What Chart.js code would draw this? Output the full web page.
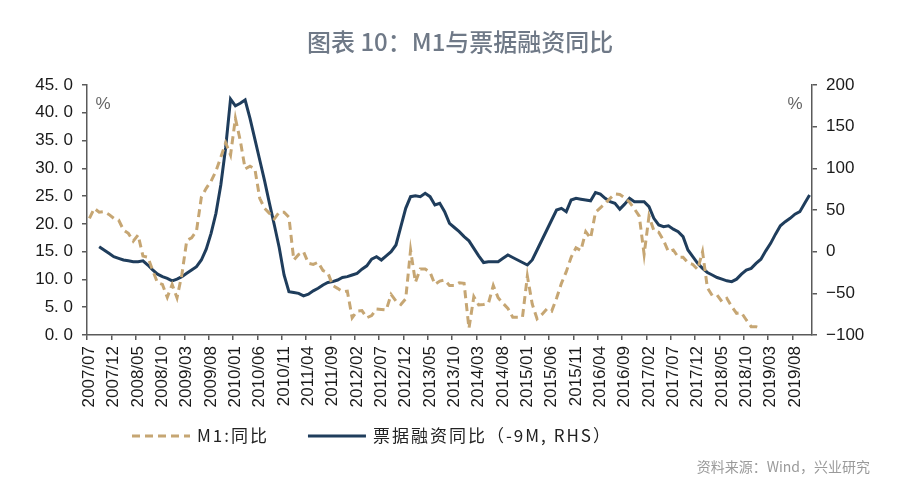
<!DOCTYPE html>
<html>
<head>
<meta charset="utf-8">
<script src="https://cdn.jsdelivr.net/npm/chart.js@4.4.1/dist/chart.umd.min.js"></script>
<style>
  html, body { margin: 0; padding: 0; background: #fff; }
</style>
</head>
<body>
<canvas id="myChart" width="900" height="490"></canvas>
<script>
// monthly categories 2007/07 .. 2019/11
var months = [];
for (var yr = 2007; yr <= 2019; yr++) {
    for (var mo = 1; mo <= 12; mo++) {
        if (yr === 2007 && mo < 7) continue;
        if (yr === 2019 && mo > 11) continue;
        months.push(yr + '/' + (mo < 10 ? '0' + mo : mo));
    }
}

// M1 yoy, %, left axis (2007/07 .. 2019/01)
var m1 = [
    21.0, 22.8, 22.1, 22.2, 21.7, 21.0,
    20.7, 18.9, 18.3, 16.9, 18.0, 14.2, 14.0, 11.6, 9.4, 9.1, 6.8, 9.1,
    6.7, 10.9, 17.0, 17.5, 18.7, 24.8, 26.4, 27.7, 29.5, 32.0, 34.6, 32.4,
    39.0, 35.0, 29.9, 30.4, 29.9, 24.6, 22.8, 21.9, 20.9, 22.1, 22.1, 21.2,
    13.5, 14.5, 15.0, 12.9, 12.7, 13.1, 11.6, 11.2, 8.9, 8.4, 7.8, 7.9,
    3.1, 4.3, 4.4, 3.1, 3.5, 4.7, 4.6, 4.5, 7.3, 6.1, 5.5, 6.5,
    15.3, 9.5, 11.9, 11.9, 11.3, 9.1, 9.7, 9.9, 8.9, 8.9, 9.4, 9.3,
    1.2, 6.9, 5.4, 5.5, 5.7, 8.9, 6.7, 5.7, 4.8, 3.2, 3.2, 3.2,
    10.6, 5.6, 2.9, 3.7, 4.7, 4.3, 6.6, 9.3, 11.4, 14.0, 15.7, 15.2,
    18.6, 17.4, 22.1, 22.9, 23.7, 24.6, 25.4, 25.3, 24.7, 23.9, 22.7, 21.4,
    14.5, 21.4, 18.8, 18.5, 17.0, 15.0, 15.3, 14.0, 14.0, 13.0, 12.7, 11.8,
    15.0, 8.5, 7.1, 7.2, 6.0, 6.6, 5.1, 3.9, 4.0, 2.7, 1.5, 1.5,
    1.2
];

// bill financing yoy shifted -9M, %, right axis
var bill = [
    null, null, 6, 2, -2, -6,
    -8, -10, -11, -12, -12, -11, -16, -22, -27, -30, -32, -35,
    -33, -30, -26, -22, -18, -10, 3, 22, 46, 80, 125, 183,
    175, 178, 182, 160, 135, 110, 85, 58, 32, 5, -28, -48,
    -49, -50, -53, -51, -47, -44, -40, -37, -36, -34, -31, -30,
    -28, -26, -21, -17, -9, -6, -10, -5, 0, 8, 30, 52,
    66, 67, 66, 70, 66, 56, 58, 48, 34, 29, 24, 18,
    13, 4, -5, -13, -12, -12, -12, -8, -4, -7, -10, -13,
    -16, -10, 2, 14, 26, 38, 50, 52, 48, 62, 64, 63,
    62, 61, 71, 69, 64, 60, 58, 51, 57, 64, 60, 60,
    60, 54, 40, 32, 30, 31, 27, 24, 18, 2, -6, -14,
    -20, -25, -28, -31, -33, -35, -36, -33, -27, -22, -20, -14,
    -9, 1, 10, 21, 31, 36, 40, 45, 48, 58, 68
];

var titleText = '图表 10：M1与票据融资同比';
var sourceText = '资料来源：Wind，兴业研究';
var axisColor = '#5a5a5a';

// title, % marks, legend and source drawn on top
var extras = {
    id: 'extras',
    afterDraw: function (chart) {
        var ctx = chart.ctx;
        var area = chart.chartArea;
        ctx.save();
        ctx.textBaseline = 'middle';

        ctx.font = '500 24px "Noto Sans CJK SC"';
        ctx.fillStyle = '#6f7987';
        ctx.textAlign = 'left';
        ctx.fillText(titleText, 307, 42);

        ctx.textAlign = 'center';
        ctx.font = '17px "Liberation Sans"';
        ctx.fillStyle = '#666';
        ctx.fillText('%', area.left + 16, area.top + 19);
        ctx.fillText('%', area.right - 17, area.top + 19);

        // legend
        var x = 132, y = 436;
        ctx.font = '17px "Noto Sans CJK SC"';
        ctx.textAlign = 'left';
        chart.data.datasets.forEach(function (ds) {
            ctx.beginPath();
            ctx.strokeStyle = ds.borderColor;
            ctx.lineWidth = 3;
            ctx.setLineDash(ds.borderDash || []);
            ctx.moveTo(x, y);
            ctx.lineTo(x + 58, y);
            ctx.stroke();
            ctx.setLineDash([]);
            ctx.fillStyle = '#222';
            ctx.letterSpacing = '2px';
            ctx.fillText(ds.label, x + 65, y);
            x += 65 + ctx.measureText(ds.label).width + 39;
            ctx.letterSpacing = '0px';
        });

        ctx.font = '14px "Noto Sans CJK SC"';
        ctx.fillStyle = '#9a9a9a';
        ctx.textAlign = 'right';
        ctx.fillText(sourceText, 870, 467);
        ctx.restore();
    }
};

new Chart('myChart', {
    type: 'line',
    data: {
        labels: months,
        datasets: [{
            label: 'M1:同比',
            data: m1,
            yAxisID: 'y',
            borderColor: '#c6a673',
            borderWidth: 3,
            borderDash: [8, 5],
            pointRadius: 0,
            tension: 0,
            fill: false
        }, {
            label: '票据融资同比（-9M, RHS）',
            data: bill,
            yAxisID: 'y1',
            borderColor: '#1f3d5c',
            borderWidth: 3,
            pointRadius: 0,
            tension: 0,
            fill: false
        }]
    },
    options: {
        responsive: false,
        animation: false,
        layout: { padding: { top: 85, bottom: 0, left: 0, right: 0 } },
        plugins: {
            legend: { display: false },
            tooltip: { enabled: false },
            title: { display: false }
        },
        scales: {
            x: {
                type: 'category',
                offset: true,
                afterFit: function (scale) { scale.height = 155; },
                border: { display: true, color: axisColor, width: 1.5 },
                grid: {
                    offset: true,
                    drawOnChartArea: false,
                    drawTicks: true,
                    tickLength: 5,
                    lineWidth: 1.5,
                    color: function (c) { return c.index % 5 === 0 ? axisColor : 'rgba(0,0,0,0)'; }
                },
                ticks: {
                    autoSkip: false,
                    minRotation: 90,
                    maxRotation: 90,
                    padding: 6,
                    color: '#1a1a1a',
                    font: { family: 'Liberation Sans', size: 17 },
                    callback: function (v, i) { return i % 5 === 0 ? months[i] : ''; }
                }
            },
            y: {
                position: 'left',
                min: 0,
                max: 45,
                afterFit: function (scale) { scale.width = 87; },
                border: { display: true, color: axisColor, width: 1.5 },
                grid: { drawOnChartArea: false, tickLength: 5, lineWidth: 1.5, color: axisColor },
                ticks: {
                    stepSize: 5,
                    padding: 9,
                    color: '#1a1a1a',
                    font: { family: 'Liberation Sans', size: 17 },
                    callback: function (v) { return v.toFixed(1).replace('.', '. '); }
                }
            },
            y1: {
                position: 'right',
                min: -100,
                max: 200,
                afterFit: function (scale) { scale.width = 88; },
                border: { display: true, color: axisColor, width: 1.5 },
                grid: { drawOnChartArea: false, tickLength: 5, lineWidth: 1.5, color: axisColor },
                ticks: {
                    stepSize: 50,
                    padding: 9,
                    color: '#1a1a1a',
                    font: { family: 'Liberation Sans', size: 17 },
                    callback: function (v) { return v < 0 ? '\u2212' + Math.abs(v) : String(v); }
                }
            }
        }
    },
    plugins: [extras]
});
</script>
</body>
</html>
